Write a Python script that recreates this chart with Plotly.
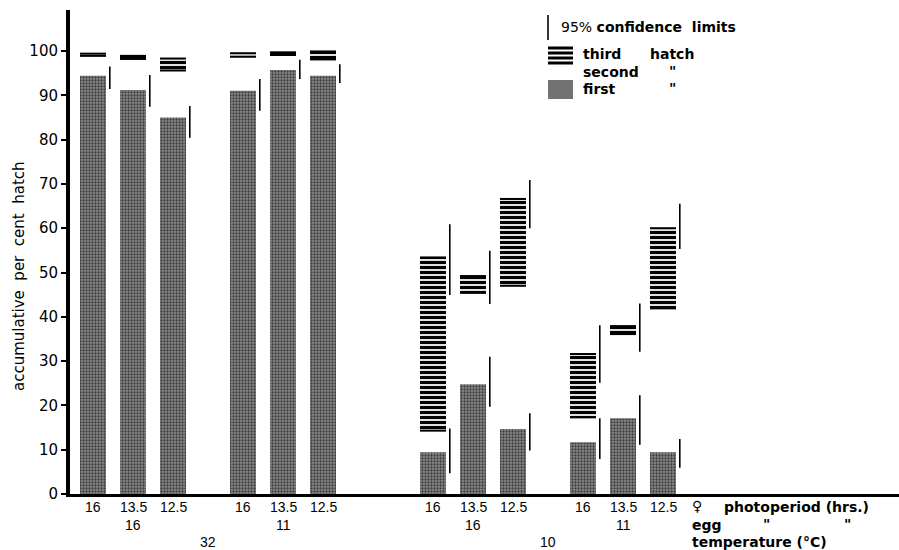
import plotly.graph_objects as go

# ---------------- data ----------------
female_photoperiod = ["16", "13.5", "12.5"] * 4          # hrs
egg_photoperiod = ["16", "11", "16", "11"]                 # hrs, one per group of 3
temperature = ["32", "10"]                                 # degC, one per pair of groups

first_hatch = [94.4, 91.2, 85.0, 91.0, 95.7, 94.4, 9.4, 24.8, 14.7, 11.7, 17.1, 9.4]
second_hatch = [98.9, 98.2, 95.6, 98.7, 99.1, 98.1, 14.3, 45.4, 47.0, 17.3, 36.1, 41.9]
third_hatch = [99.4, 98.9, 98.3, 99.5, 99.7, 99.9, 53.4, 49.2, 66.6, 31.6, 37.9, 60.0]

ci_first_low = [91.4, 87.4, 80.4, 86.5, 93.7, 92.8, 4.7, 19.7, 9.8, 7.9, 11.1, 5.9]
ci_first_high = [96.5, 94.6, 87.6, 93.7, 98.0, 97.0, 14.8, 31.0, 18.2, 17.1, 22.3, 12.4]
ci_third_low = [None] * 6 + [44.9, 42.9, 60.0, 25.1, 32.1, 55.3]
ci_third_high = [None] * 6 + [60.9, 54.9, 70.9, 38.1, 43.0, 65.5]

# ---------------- layout constants ----------------
W, H = 899, 550
L, R, T, B = 70, 0, 10, 56
group_start = [0, 3.75, 8.5, 12.25]
x_pos = [g + i for g in group_start for i in range(3)]
bar_w = 0.65
ci_off = 0.42

BAR_GRAY = "#727272"


def px(X):
    return (X - L) / (W - L - R)


def py(Y):
    return (H - B - Y) / (H - T - B)


fig = go.Figure()

# first hatch: grey bars
fig.add_trace(go.Bar(
    x=x_pos, y=first_hatch, width=bar_w, opacity=1,
    marker=dict(color=BAR_GRAY, opacity=1, line=dict(width=0),
                pattern=dict(shape=".", fgcolor="#3e3e3e", bgcolor="#8a8a8a",
                             fgopacity=1, size=3, solidity=0.45)),
    showlegend=False, hoverinfo="skip"))

# third hatch: horizontally lined segment from second to third cumulative
fig.add_trace(go.Bar(
    x=x_pos, y=[t - s for t, s in zip(third_hatch, second_hatch)],
    base=second_hatch, width=bar_w, opacity=1,
    marker=dict(color="white", opacity=1, line=dict(width=0),
                pattern=dict(shape="-", fgcolor="black", bgcolor="white",
                             fgopacity=1, size=5, solidity=0.65)),
    showlegend=False, hoverinfo="skip"))

# top and bottom stripes of each lined segment
ex, ey = [], []
for xi, s, t in zip(x_pos, second_hatch, third_hatch):
    for v in (s, t):
        ex += [xi - bar_w / 2, xi + bar_w / 2, None]
        ey += [v, v, None]
fig.add_trace(go.Scatter(x=ex, y=ey, mode="lines",
                         line=dict(color="black", width=2),
                         showlegend=False, hoverinfo="skip"))

# 95% confidence limits
cx, cy = [], []
for xi, lo, hi in zip(x_pos, ci_first_low, ci_first_high):
    cx += [xi + ci_off, xi + ci_off, None]
    cy += [lo, hi, None]
for xi, lo, hi in zip(x_pos, ci_third_low, ci_third_high):
    if lo is None:
        continue
    cx += [xi + ci_off, xi + ci_off, None]
    cy += [lo, hi, None]
fig.add_trace(go.Scatter(x=cx, y=cy, mode="lines",
                         line=dict(color="black", width=1.6),
                         showlegend=False, hoverinfo="skip"))

annotations = []
num_font = dict(family="Liberation Sans", size=14, color="black")
bold_font = dict(family="DejaVu Sans", size=14, color="black", weight="bold")

# row 1: female photoperiod under each bar
for xi, lab in zip(x_pos, female_photoperiod):
    annotations.append(dict(x=xi, y=py(507), xref="x", yref="paper", text=lab,
                            showarrow=False, font=num_font,
                            xanchor="center", yanchor="middle"))
# row 2: egg photoperiod under middle of each group
for gi, lab in enumerate(egg_photoperiod):
    annotations.append(dict(x=x_pos[gi * 3 + 1], y=py(525), xref="x", yref="paper",
                            text=lab, showarrow=False, font=num_font,
                            xanchor="center", yanchor="middle"))
# row 3: temperature under pairs of groups
for ti, lab in enumerate(temperature):
    xm = (x_pos[ti * 6] + x_pos[ti * 6 + 5]) / 2
    annotations.append(dict(x=xm, y=py(542), xref="x", yref="paper", text=lab,
                            showarrow=False, font=num_font,
                            xanchor="center", yanchor="middle"))


def txt(X, Y, s, font, anchor="left"):
    annotations.append(dict(x=px(X), y=py(Y), xref="paper", yref="paper", text=s,
                            showarrow=False, font=font, xanchor=anchor,
                            yanchor="middle"))


txt(697, 506, "♀", bold_font, "center")
txt(722, 507, "photoperiod (hrs.)", bold_font)
txt(690, 525, "egg", bold_font)
txt(766, 524, "\"", bold_font, "center")
txt(847, 524, "\"", bold_font, "center")
txt(690, 542, "temperature (°C)", bold_font)

# legend texts
txt(559, 27, "95% <b>confidence  limits</b>",
    dict(family="DejaVu Sans", size=14, color="black"))
txt(581, 54, "third", bold_font)
txt(648, 54, "hatch", bold_font)
txt(581, 72, "second", bold_font)
txt(672, 71, "\"", bold_font, "center")
txt(581, 89, "first", bold_font)
txt(672, 88, "\"", bold_font, "center")

# y axis title
annotations.append(dict(x=px(19), y=py(276), xref="paper", yref="paper",
                        text="accumulative\u00a0 per\u00a0 cent\u00a0 hatch",
                        textangle=-90, showarrow=False,
                        font=dict(family="DejaVu Sans", size=15, color="black"),
                        xanchor="center", yanchor="middle"))

shapes = []
shapes.append(dict(type="line", xref="paper", yref="paper",
                   x0=px(548), x1=px(548), y0=py(15), y1=py(40),
                   line=dict(color="black", width=1.6)))
for Y in (48, 53, 58, 63):
    shapes.append(dict(type="line", xref="paper", yref="paper",
                       x0=px(548), x1=px(573), y0=py(Y), y1=py(Y),
                       line=dict(color="black", width=3)))
shapes.append(dict(type="rect", xref="paper", yref="paper",
                   x0=px(548), x1=px(573), y0=py(99), y1=py(80),
                   fillcolor=BAR_GRAY, line=dict(width=0)))

fig.update_layout(
    width=W, height=H,
    margin=dict(l=L, r=R, t=T, b=B, pad=0),
    paper_bgcolor="white", plot_bgcolor="white",
    barmode="overlay",
    annotations=annotations, shapes=shapes,
    xaxis=dict(range=[(L - 93) / 40, (W - 93) / 40], showgrid=False,
               zeroline=False, showticklabels=False, ticks="",
               showline=True, linecolor="black", linewidth=3),
    yaxis=dict(range=[0, (H - T - B) / 4.43], showgrid=False, zeroline=False,
               tickvals=list(range(0, 101, 10)), ticks="outside", ticklen=5,
               tickwidth=1.5, tickcolor="black",
               tickfont=dict(family="DejaVu Sans", size=15, color="black"),
               showline=True, linecolor="black", linewidth=4),
)

fig.write_html("out.html", config={"displayModeBar": False})
